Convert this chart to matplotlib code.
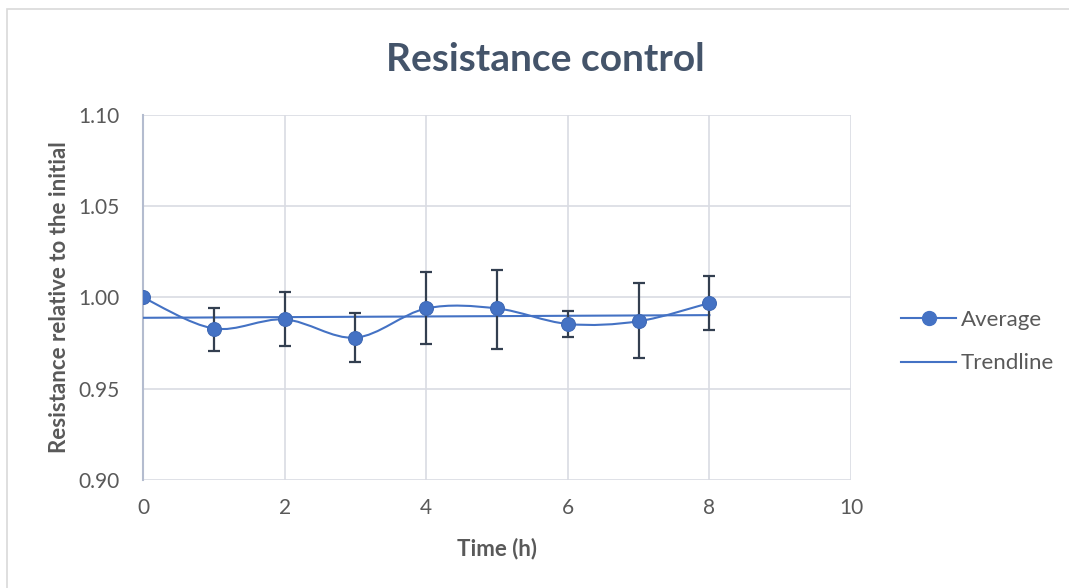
import matplotlib.pyplot as plt
from matplotlib.path import Path
from matplotlib.patches import PathPatch, Rectangle
from matplotlib.lines import Line2D
import numpy as np

# --- data ---
hours = [0, 1, 2, 3, 4, 5, 6, 7, 8]
average = [1.000, 0.983, 0.988, 0.978, 0.994, 0.994, 0.9855, 0.987, 0.997]
err_top = [1.000, 0.9944, 1.0028, 0.9913, 1.0138, 1.0152, 0.9928, 1.0078, 1.0118]
err_bottom = [1.000, 0.9709, 0.9733, 0.9647, 0.9745, 0.9719, 0.9782, 0.9668, 0.9820]
x_ticks = [0, 2, 4, 6, 8, 10]
y_ticks = [0.90, 0.95, 1.00, 1.05, 1.10]

BLUE = "#4472C4"
TEXT = "#595959"
GRID = "#D9DCE3"
ERR = "#333F50"

plt.rcParams.update({"font.family": ["Lato", "DejaVu Sans"]})


def smooth_path(xs, ys):
    # Excel-style smoothed line: Catmull-Rom segments as cubic Beziers
    pts = np.column_stack([xs, ys]).astype(float)
    verts = [pts[0]]
    codes = [Path.MOVETO]
    n = len(pts)
    for i in range(n - 1):
        p0 = pts[max(i - 1, 0)]
        p1 = pts[i]
        p2 = pts[i + 1]
        p3 = pts[min(i + 2, n - 1)]
        c1 = p1 + (p2 - p0) / 6.0
        c2 = p2 - (p3 - p1) / 6.0
        verts += [c1, c2, p2]
        codes += [Path.CURVE4] * 3
    return Path(verts, codes)


def main():
    fig = plt.figure(figsize=(10.69, 5.88), dpi=100)
    fig.patches.append(Rectangle((0.0065, -0.01), 1.0, 0.995, transform=fig.transFigure,
                                 fill=False, edgecolor="#D9D9D9", linewidth=1.2))
    ax = fig.add_axes([0.1338, 0.1837, 0.6623, 0.6207])

    x = np.array(hours)
    y = np.array(average)
    lower = y - np.array(err_bottom)
    upper = np.array(err_top) - y

    # trendline (linear fit, as the spreadsheet does)
    k, b = np.polyfit(x, y, 1)
    ax.plot(x, k * x + b, color=BLUE, linewidth=1.5, zorder=3)

    ax.add_patch(PathPatch(smooth_path(x, y), facecolor="none", edgecolor=BLUE,
                           linewidth=1.5, zorder=3))
    ax.errorbar(x[1:], y[1:], yerr=[lower[1:], upper[1:]], fmt="none", ecolor=ERR,
                elinewidth=1.6, capsize=4.5, capthick=1.6, zorder=4)
    ax.plot(x, y, "o", color=BLUE, markersize=10, markeredgecolor="#3F69B5",
            markeredgewidth=0.8, zorder=5)

    ax.set_xlim(0, 10)
    ax.set_ylim(0.90, 1.10)
    ax.set_xticks(x_ticks)
    ax.set_yticks(y_ticks)
    ax.set_yticklabels([f"{t:.2f}" for t in y_ticks])
    ax.tick_params(length=0, labelsize=15, labelcolor=TEXT)
    ax.tick_params(axis="y", pad=17)
    ax.tick_params(axis="x", pad=13)
    ax.grid(True, color=GRID, linewidth=1.2)
    ax.set_axisbelow(True)
    for side in ["top", "right", "bottom"]:
        ax.spines[side].set_visible(False)
    ax.spines["left"].set_color("#B4BCCF")
    ax.spines["left"].set_linewidth(1.5)

    ax.set_xlabel("Time (h)", fontsize=16, fontweight="bold", color=TEXT, labelpad=14)
    ax.set_ylabel("Resistance relative to the initial", fontsize=16, fontweight="bold",
                  color=TEXT, labelpad=6)
    fig.suptitle("Resistance control", x=0.51, y=0.928, fontsize=28, fontweight="bold",
                 color="#44546A")

    handles = [
        Line2D([], [], color=BLUE, linewidth=1.5, marker="o", markersize=10),
        Line2D([], [], color=BLUE, linewidth=1.5),
    ]
    fig.legend(handles, ["Average", "Trendline"], loc="center left",
               bbox_to_anchor=(0.824, 0.419), frameon=False, fontsize=16,
               labelcolor=TEXT, handlelength=2.5, handletextpad=0.2, labelspacing=1.05)

    plt.savefig("out.png", dpi=100)


if __name__ == "__main__":
    main()
